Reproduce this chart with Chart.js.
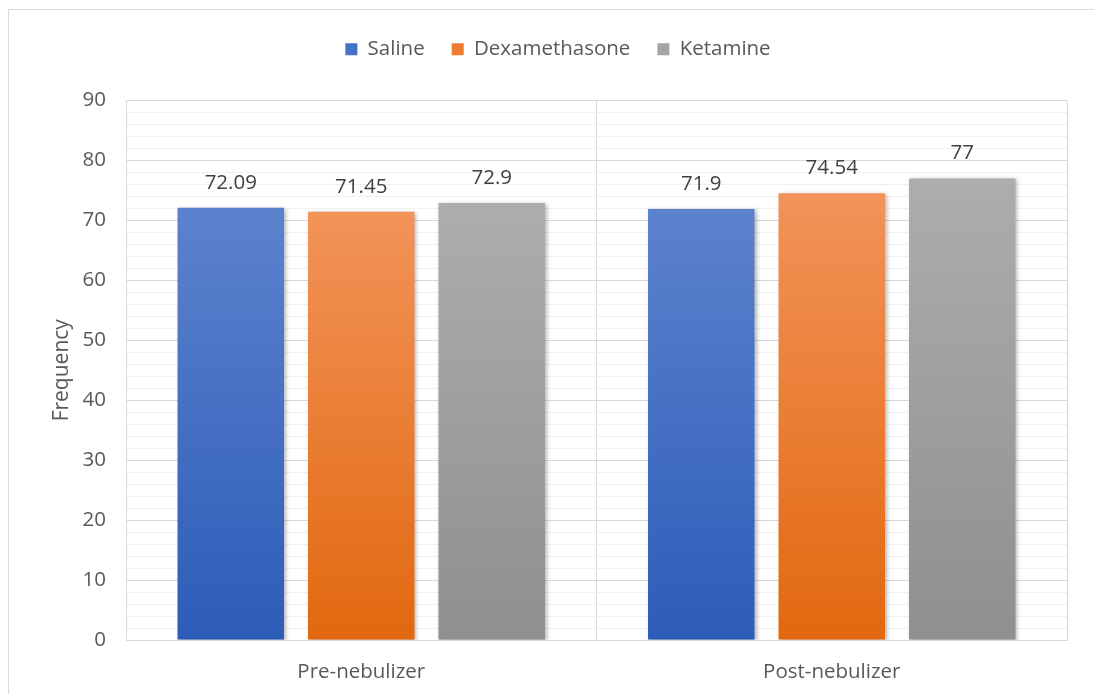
<!DOCTYPE html>
<html>
<head>
<meta charset="utf-8">
<script src="https://cdn.jsdelivr.net/npm/chart.js@4"></script>
<style>
  html, body { margin: 0; padding: 0; background: #ffffff; }
  canvas { display: block; }
</style>
</head>
<body>
<canvas id="chart" width="1094" height="694"></canvas>
<script>
// data
const categories = ['Pre-nebulizer', 'Post-nebulizer'];
const seriesNames = ['Saline', 'Dexamethasone', 'Ketamine'];
const saline = [72.09, 71.9];
const dexamethasone = [71.45, 74.54];
const ketamine = [72.9, 77];
const yTicks = [0, 10, 20, 30, 40, 50, 60, 70, 80, 90];

const FONT = "'Open Sans', 'Liberation Sans', sans-serif";

// top / bottom shades for the bar gradients
const palette = {
  saline: { top: '#5b82cd', bottom: '#2d5cb8', legend: '#4472c4' },
  dex: { top: '#f29359', bottom: '#e2680f', legend: '#ed7d31' },
  ket: { top: '#adadad', bottom: '#8f8f8f', legend: '#a5a5a5' }
};

function barFill(shade) {
  return (ctx) => {
    const chart = ctx.chart;
    if (ctx.type !== 'data' || !chart.chartArea || !ctx.parsed) return shade.legend;
    const y = chart.scales.y;
    const y0 = y.getPixelForValue(ctx.parsed.y);
    const y1 = y.getPixelForValue(0);
    if (!isFinite(y0) || !isFinite(y1)) return shade.legend;
    const g = chart.ctx.createLinearGradient(0, y0, 0, y1);
    g.addColorStop(0, shade.top);
    g.addColorStop(1, shade.bottom);
    return g;
  };
}

// light frame around the whole chart
const framePlugin = {
  id: 'frame',
  beforeDraw(chart) {
    const c = chart.ctx;
    c.save();
    c.fillStyle = '#ffffff';
    c.fillRect(0, 0, chart.width, chart.height);
    c.strokeStyle = '#d9d9d9';
    c.lineWidth = 1;
    c.strokeRect(8.5, 9.5, chart.width + 20, chart.height + 20);
    c.restore();
  }
};

// extra room between the legend row and the plot
const LEGEND_GAP = 31;
const legendGapPlugin = {
  id: 'legendGap',
  beforeLayout(chart) {
    const lg = chart.legend;
    if (!lg || lg._gapPatched) return;
    const fit = lg.fit.bind(lg);
    lg.fit = function () {
      fit();
      this.height += LEGEND_GAP;
    };
    lg._gapPatched = true;
  }
};

// soft shadow on the bars, then value labels on top
const barLabelPlugin = {
  id: 'barLabels',
  beforeDatasetsDraw(chart) {
    const c = chart.ctx;
    c.save();
    c.shadowColor = 'rgba(0, 0, 0, 0.28)';
    c.shadowBlur = 4;
    c.shadowOffsetX = 2;
    c.shadowOffsetY = 1;
  },
  afterDatasetsDraw(chart) {
    const c = chart.ctx;
    c.restore();
    c.save();
    c.font = '20.5px ' + FONT;
    c.fillStyle = '#404040';
    c.textAlign = 'center';
    c.textBaseline = 'alphabetic';
    chart.data.datasets.forEach((ds, i) => {
      const meta = chart.getDatasetMeta(i);
      meta.data.forEach((bar, j) => {
        c.fillText(String(ds.data[j]), bar.x, bar.y - 19);
      });
    });
    c.restore();
  }
};

const dataset = (label, values, shade) => ({
  label: label,
  data: values,
  backgroundColor: barFill(shade),
  borderWidth: 0,
  categoryPercentage: 0.832,
  barPercentage: 0.816
});

new Chart(document.getElementById('chart'), {
  type: 'bar',
  data: {
    labels: categories,
    datasets: [
      dataset(seriesNames[0], saline, palette.saline),
      dataset(seriesNames[1], dexamethasone, palette.dex),
      dataset(seriesNames[2], ketamine, palette.ket)
    ]
  },
  options: {
    responsive: false,
    animation: false,
    layout: { padding: { left: 49, right: 27, top: 12, bottom: 0 } },
    plugins: {
      legend: {
        position: 'top',
        labels: {
          color: '#595959',
          font: { family: FONT, size: 20.5 },
          boxWidth: 12,
          boxHeight: 12,
          padding: 27,
          generateLabels: (chart) => chart.data.datasets.map((ds, i) => ({
            text: ds.label,
            fillStyle: [palette.saline, palette.dex, palette.ket][i].legend,
            strokeStyle: 'transparent',
            lineWidth: 0,
            datasetIndex: i,
            fontColor: '#595959'
          }))
        }
      },
      tooltip: { enabled: false }
    },
    scales: {
      x: {
        offset: true,
        grid: { display: true, offset: true, color: '#d9d9d9', drawTicks: false },
        border: { color: '#d9d9d9' },
        ticks: { color: '#595959', font: { family: FONT, size: 20.5 }, padding: 20 },
        afterFit: (scale) => { scale.height = 54; }
      },
      y: {
        min: 0,
        max: 90,
        grid: {
          drawTicks: false,
          color: (ctx) => (ctx.tick && ctx.tick.value % 10 === 0) ? '#d9d9d9' : '#f0f0f0'
        },
        border: { color: '#d9d9d9' },
        ticks: {
          stepSize: 2,
          autoSkip: false,
          padding: 20,
          color: '#595959',
          font: { family: FONT, size: 20.5 },
          callback: (v) => yTicks.includes(v) ? String(v) : ''
        },
        title: {
          display: true,
          text: 'Frequency',
          color: '#595959',
          font: { family: FONT, size: 21 },
          padding: 0
        },
        afterFit: (scale) => { scale.width = 77; }
      }
    }
  },
  plugins: [framePlugin, legendGapPlugin, barLabelPlugin]
});
</script>
</body>
</html>
